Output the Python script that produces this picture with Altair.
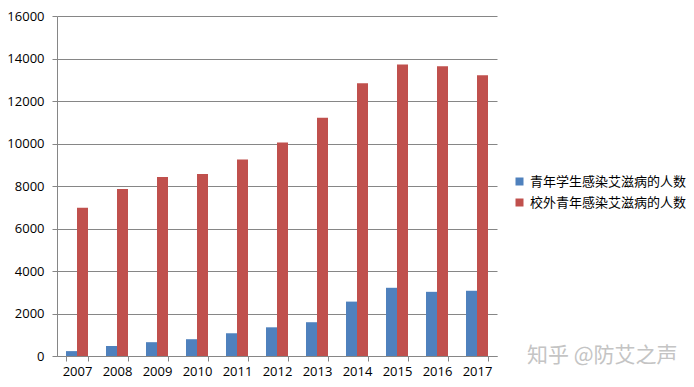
import altair as alt
import pandas as pd

years = ["2007", "2008", "2009", "2010", "2011", "2012", "2013", "2014", "2015", "2016", "2017"]
students = [230, 470, 650, 790, 1070, 1350, 1590, 2560, 3210, 3020, 3070]
others = [6980, 7860, 8420, 8560, 9250, 10050, 11210, 12840, 13720, 13630, 13210]
series_names = ["青年学生感染艾滋病的人数", "校外青年感染艾滋病的人数"]
colors = ["#4F81BD", "#C0504D"]
y_ticks = [0, 2000, 4000, 6000, 8000, 10000, 12000, 14000, 16000]
watermark = "知乎 @防艾之声"

rows = []
for i, yr in enumerate(years):
    rows.append({"year": yr, "series": series_names[0], "value": students[i]})
    rows.append({"year": yr, "series": series_names[1], "value": others[i]})
df = pd.DataFrame(rows)

num_font = "Open Sans"
cjk_font = "Noto Sans CJK SC"

bars = alt.Chart(df).mark_bar().encode(
    x=alt.X("year:N", sort=years,
            scale=alt.Scale(paddingInner=0.45, paddingOuter=0.225),
            axis=alt.Axis(title=None, labelAngle=0, tickBand="extent",
                          domainColor="#868686", tickColor="#868686",
                          tickSize=5, labelPadding=4, labelFont=num_font,
                          labelFontSize=13, labelColor="#000000")),
    xOffset=alt.XOffset("series:N", sort=series_names),
    y=alt.Y("value:Q",
            scale=alt.Scale(domain=[0, 16000], nice=False),
            axis=alt.Axis(title=None, values=y_ticks, grid=True, format="d",
                          gridColor="#868686", domainColor="#868686",
                          tickColor="#868686", tickSize=5, labelPadding=8,
                          labelFont=num_font, labelFontSize=13,
                          labelColor="#000000")),
    color=alt.Color("series:N", sort=series_names,
                    scale=alt.Scale(domain=series_names, range=colors),
                    legend=alt.Legend(title=None, orient="none",
                                      legendX=456, legendY=159,
                                      symbolType="square", symbolSize=64,
                                      symbolStrokeWidth=0,
                                      labelFont=cjk_font, labelFontSize=13,
                                      labelColor="#000000", rowPadding=7,
                                      labelLimit=300)),
)

wm = alt.Chart(pd.DataFrame({"t": [watermark]})).mark_text(
    font=cjk_font, fontSize=21, color="#c4c4c4", align="left", baseline="middle"
).encode(text="t:N", x=alt.value(470), y=alt.value(340))

chart = (bars + wm).properties(
    width=440, height=340,
    autosize=alt.AutoSizeParams(type="none"),
    padding={"left": 49, "top": 8, "right": 189, "bottom": 23},
).configure_view(stroke=None)

chart.save("out.html", embed_options={"renderer": "svg", "actions": False})
